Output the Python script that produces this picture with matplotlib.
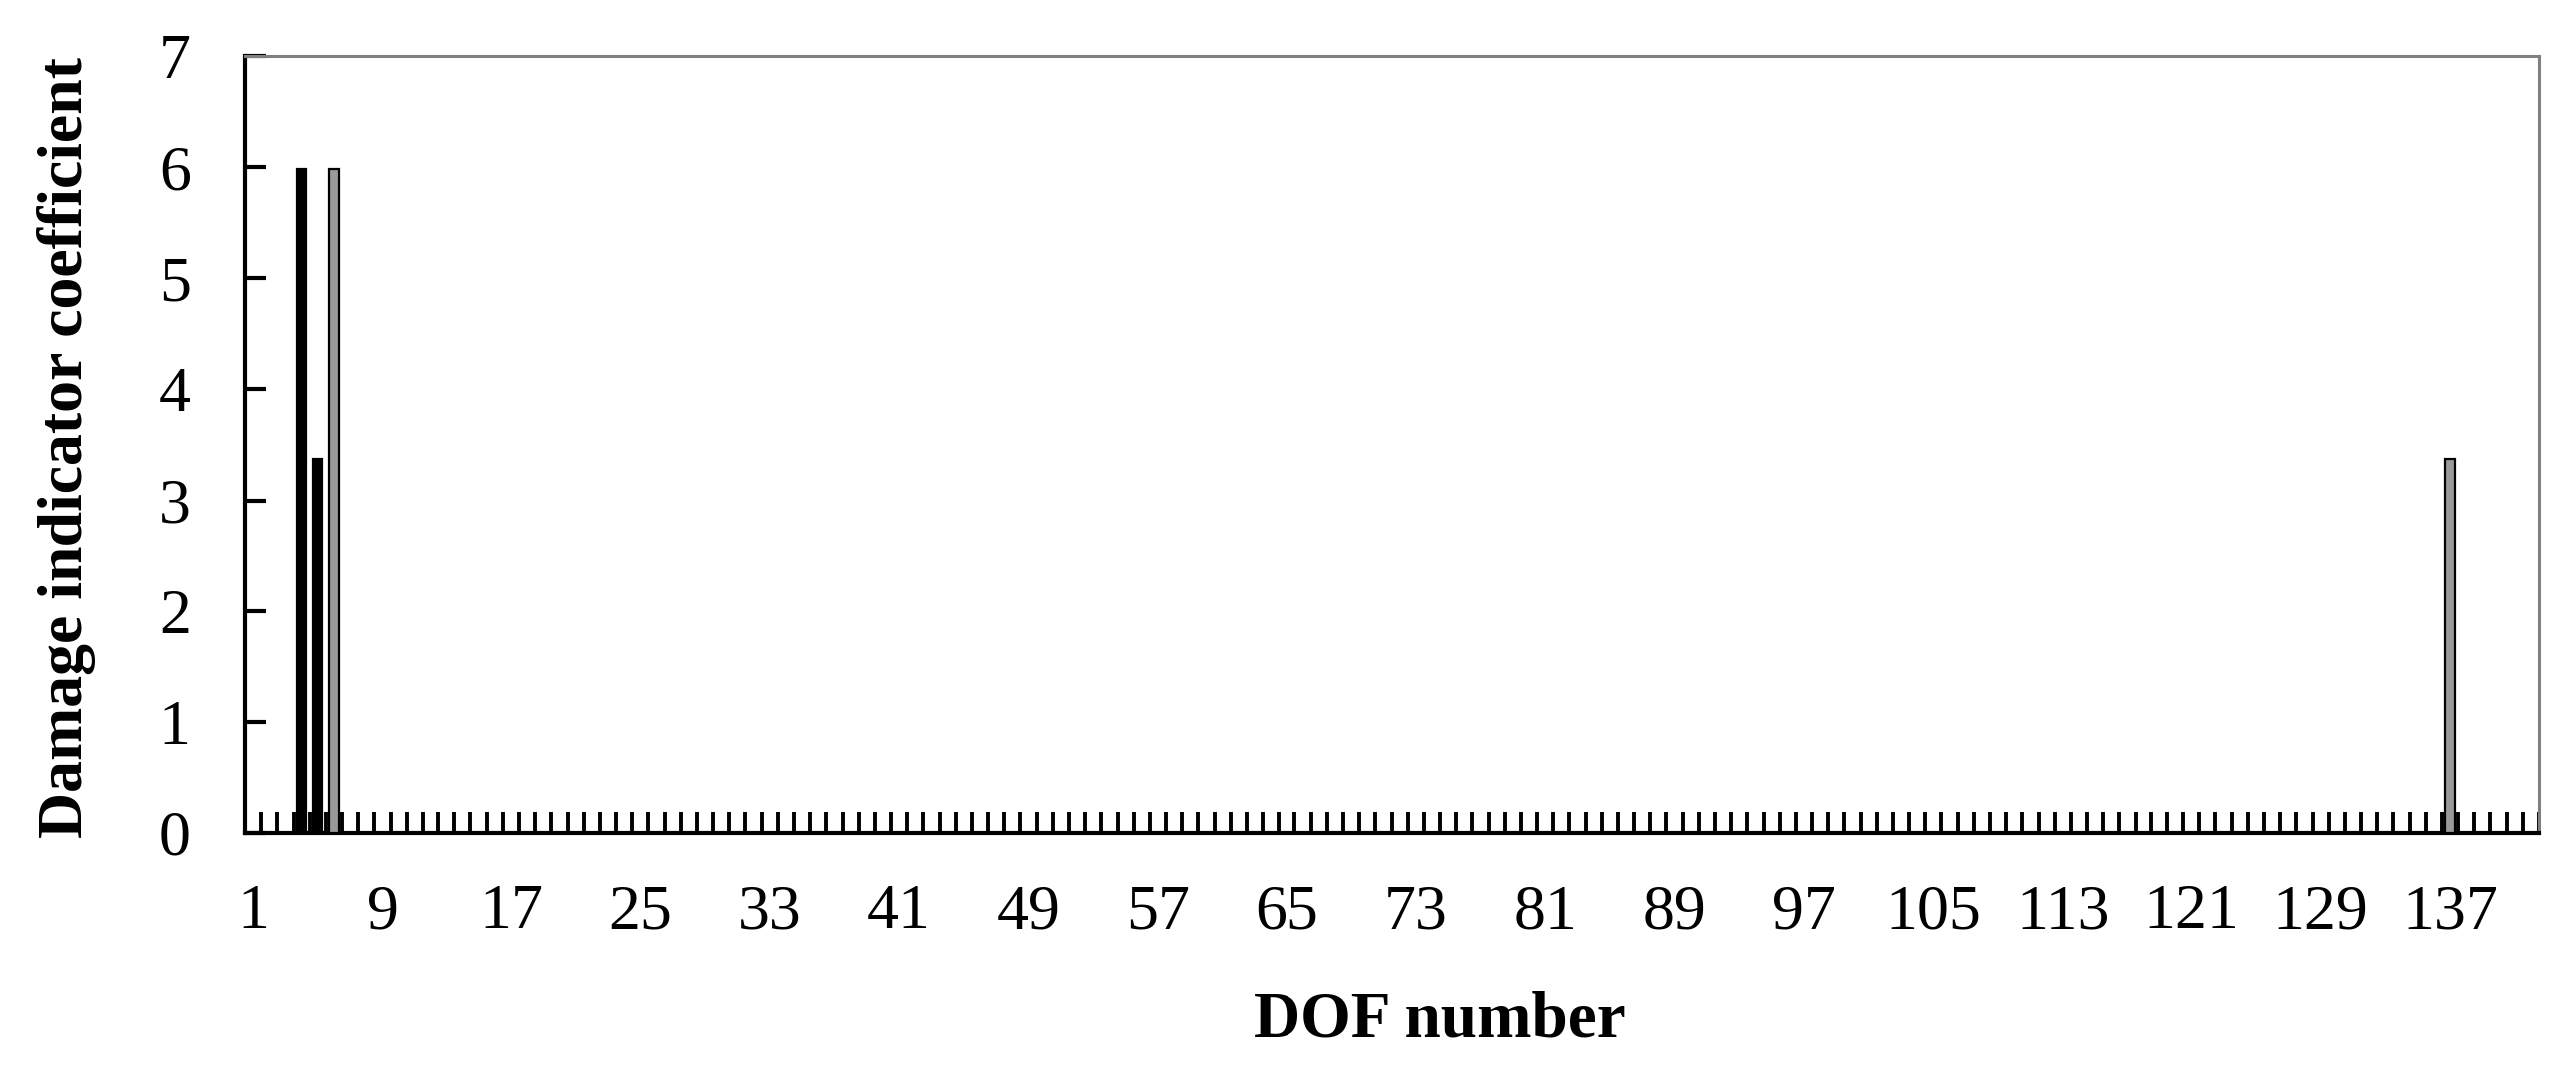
import matplotlib
matplotlib.use("Agg")
import matplotlib.pyplot as plt
import numpy as np

# Data
n_categories = 142
bar_dofs = [4, 5, 6, 137]
bar_values = [5.98, 3.37, 5.98, 3.37]
label_dofs = list(range(1, 138, 8))
y_ticks = [0, 1, 2, 3, 4, 5, 6, 7]
x_label = "DOF number"
y_label = "Damage indicator coefficient"

plt.rcParams['font.family'] = ['Liberation Serif', 'DejaVu Serif']

W, H = 2579, 1091
dpi = 100
fig = plt.figure(figsize=(W / dpi, H / dpi), dpi=dpi)
L, R, T, B = 245, 2542, 56, 834
ax = fig.add_axes([L / W, 1 - B / H, (R - L) / W, (B - T) / H])

face = ['black', 'black', '#9a9a9a', '#9a9a9a']
ax.bar(bar_dofs, bar_values, width=0.58, color=face, edgecolor='black', linewidth=1.6, zorder=3)

ax.set_xlim(0.5, n_categories + 0.5)
ax.set_ylim(0, 7)

ax.set_xticks(label_dofs)
ax.set_xticklabels([str(v) for v in label_dofs], fontsize=46)
ax.tick_params(axis='x', which='major', length=0, pad=37)
ax.set_xticks(np.arange(0.5, n_categories + 0.6, 1), minor=True)
ax.tick_params(axis='x', which='minor', direction='in', length=15, width=2.8, color='black')

ax.set_yticks(y_ticks)
ax.set_yticklabels([str(v) for v in y_ticks], fontsize=46)
ax.tick_params(axis='y', which='major', direction='in', length=15, width=3, pad=39)

for s in ['left', 'bottom']:
    ax.spines[s].set_linewidth(3)
    ax.spines[s].set_color('black')
for s in ['top', 'right']:
    ax.spines[s].set_linewidth(2.2)
    ax.spines[s].set_color('#808080')

ax.set_xlabel(x_label, fontsize=47, fontweight='bold', ha='center', va='baseline')
ax.xaxis.set_label_coords((1441 - L) / (R - L), (B - 1037) / (B - T))
ax.set_ylabel(y_label, fontsize=46, fontweight='bold', ha='center', va='center')
ax.yaxis.set_label_coords((66 - L) / (R - L), (B - 448) / (B - T))

fig.savefig("out.png", dpi=dpi)
